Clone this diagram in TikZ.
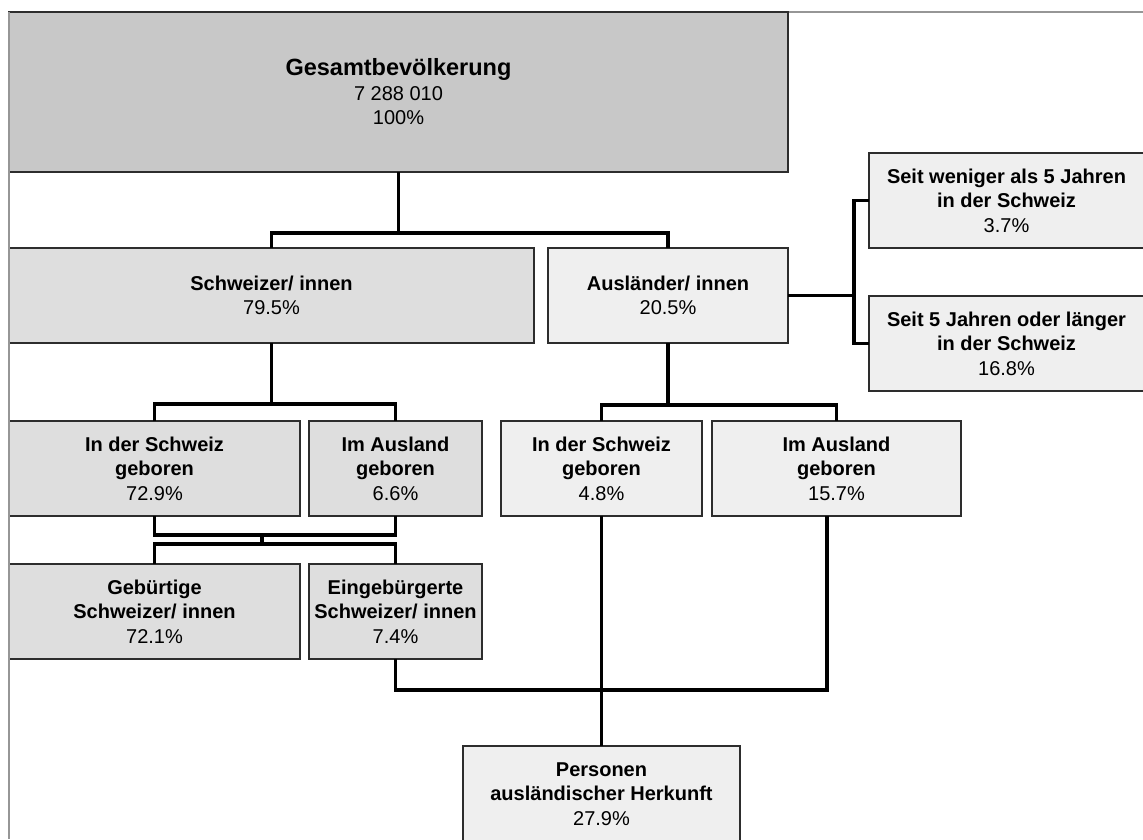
\documentclass[tikz,border=0pt]{standalone}
\usepackage{fontspec}
\setmainfont{Liberation Sans}
\usetikzlibrary{calc}
\definecolor{gtop}{RGB}{200,200,200}
\definecolor{gch}{RGB}{222,222,222}
\definecolor{gau}{RGB}{239,239,239}
\definecolor{bord}{RGB}{45,45,45}
\definecolor{frm}{RGB}{150,150,150}
\tikzset{
  box/.style={draw=bord, line width=1.4pt, inner sep=0pt, outer sep=0pt, align=center,
    font=\fontsize{20}{24.5}\selectfont},
  link/.style={draw=black, line width=3.8pt},
  frame/.style={draw=frm, line width=1.4pt}
}
\newcommand{\boxat}[7]{% name, x1, y1, x2, y2, fill, text
  \node[box, fill=#6, minimum width={(#4-#2)*1pt}, minimum height={(#5-#3)*1pt}]
    (#1) at ({(#2+#4)/2},{(#3+#5)/2}) {#7};}
\begin{document}
\begin{tikzpicture}[x=1pt,y=-1pt]
\useasboundingbox (0,0) rectangle (1143,839);
\draw[frame] (9,12) -- (1143,12);
% boxes
\boxat{ges}{9}{12}{788}{172}{gtop}{{\fontsize{23.5}{24.5}\selectfont\bfseries Gesamtbevölkerung}\\7 288 010\\100\%}
\boxat{ch}{9}{248}{534}{343}{gch}{\textbf{Schweizer/ innen}\\79.5\%}
\boxat{ausl}{548}{248}{788}{343}{gau}{\textbf{Ausländer/ innen}\\20.5\%}
\boxat{kurz}{869}{153}{1144}{248}{gau}{\textbf{Seit weniger als 5 Jahren}\\\textbf{in der Schweiz}\\3.7\%}
\boxat{lang}{869}{296}{1144}{391}{gau}{\textbf{Seit 5 Jahren oder länger}\\\textbf{in der Schweiz}\\16.8\%}
\boxat{chch}{9}{421}{300}{516}{gch}{\textbf{In der Schweiz}\\\textbf{geboren}\\72.9\%}
\boxat{chau}{309}{421}{482}{516}{gch}{\textbf{Im Ausland}\\\textbf{geboren}\\6.6\%}
\boxat{auch}{501}{421}{702}{516}{gau}{\textbf{In der Schweiz}\\\textbf{geboren}\\4.8\%}
\boxat{auau}{712}{421}{961}{516}{gau}{\textbf{Im Ausland}\\\textbf{geboren}\\15.7\%}
\boxat{geb}{9}{564}{300}{659}{gch}{\textbf{Gebürtige}\\\textbf{Schweizer/ innen}\\72.1\%}
\boxat{einb}{309}{564}{482}{659}{gch}{\textbf{Eingebürgerte}\\\textbf{Schweizer/ innen}\\7.4\%}
\boxat{pers}{463}{746}{740}{842}{gau}{\textbf{Personen}\\\textbf{ausländischer Herkunft}\\27.9\%}
\draw[frame] (9,12) -- (9,839);
% junctions
\coordinate (j1) at (398.5,233);
\coordinate (j2) at (854,295.5);
\coordinate (j3) at (271.5,404);
\coordinate (j4) at (668,405);
\coordinate (j5a) at (262,535);
\coordinate (j5b) at (262,544);
\coordinate (j6) at (601.5,690);
% connectors
\draw[link] (ges.south) -- (j1);
\draw[link] (ch.north) |- (j1) -| (ausl.north);
\draw[link] (ausl.east) -- (j2);
\draw[link] (kurz.west) -| (j2) |- (lang.west);
\draw[link] (ch.south) -- (j3);
\draw[link] (chch.north) |- (j3) -| (chau.north);
\draw[link] (ausl.south) -- (j4);
\draw[link] (auch.north) |- (j4) -| (auau.north);
\draw[link] (chch.south) |- (j5a) -| (chau.south);
\draw[link] (j5a) -- (j5b);
\draw[link] (geb.north) |- (j5b) -| (einb.north);
\draw[link] (auch.south) -- (pers.north);
\draw[link] (einb.south) |- (j6) -| ([xshift=-9.5pt]auau.south);
\end{tikzpicture}
\end{document}
